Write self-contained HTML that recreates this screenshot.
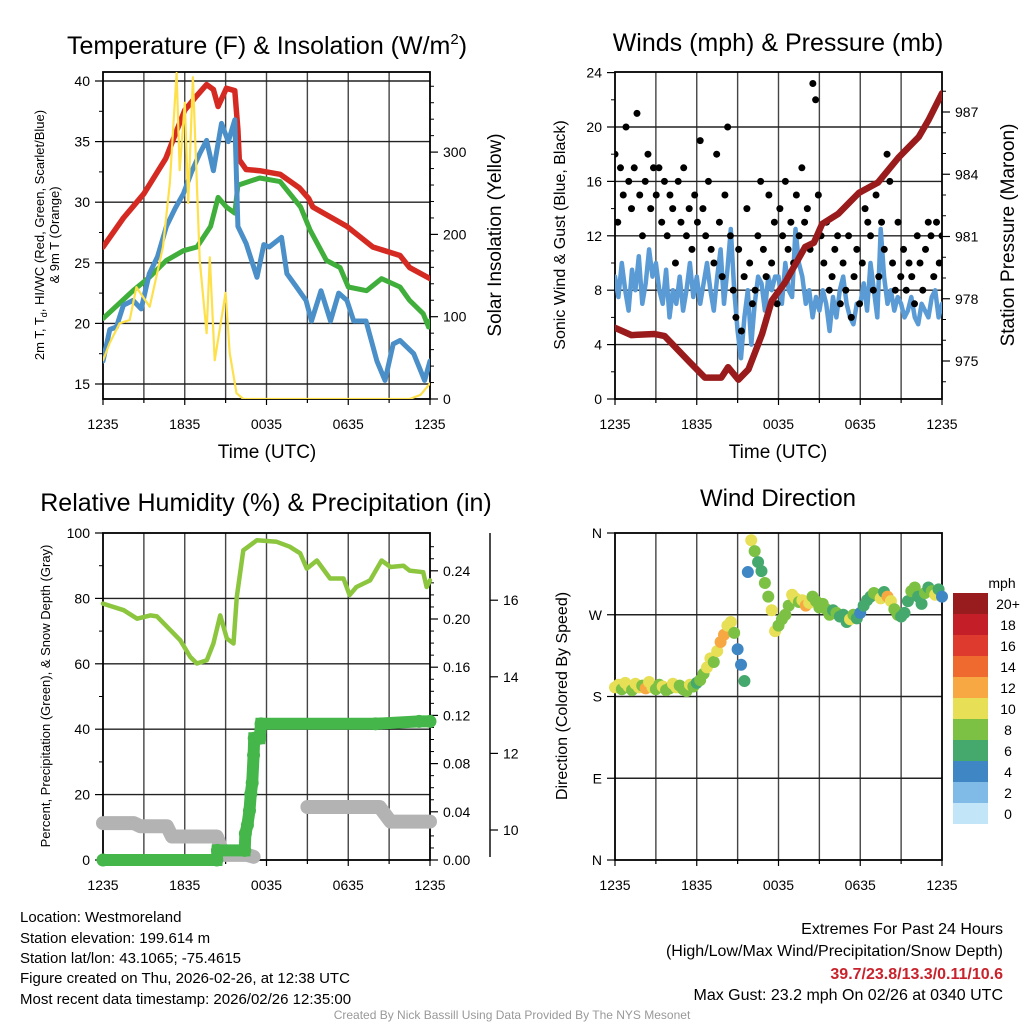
<!DOCTYPE html>
<html><head><meta charset="utf-8"><style>
html,body{margin:0;padding:0;background:#fff}
svg{display:block;font-family:"Liberation Sans",Arial,sans-serif}
</style></head><body>
<svg id="chart" width="1024" height="1024" viewBox="0 0 1024 1024" xmlns="http://www.w3.org/2000/svg">
<rect width="1024" height="1024" fill="#fff"/>
<g id="g1"></g>
<g id="g2"></g>
<g id="g3"></g>
<g id="g4"></g>
<text x="267" y="54" font-size="25" text-anchor="middle">Temperature (F) &amp; Insolation (W/m<tspan font-size="15" dy="-10">2</tspan><tspan dy="10">)</tspan></text>
<text x="778" y="51" font-size="25" text-anchor="middle">Winds (mph) &amp; Pressure (mb)</text>
<text x="266" y="511" font-size="25" text-anchor="middle">Relative Humidity (%) &amp; Precipitation (in)</text>
<text x="778" y="506" font-size="24" text-anchor="middle">Wind Direction</text>
<text x="267" y="458" font-size="19" text-anchor="middle">Time (UTC)</text>
<text x="778" y="458" font-size="19" text-anchor="middle">Time (UTC)</text>
<text transform="translate(44,235) rotate(-90)" font-size="13" text-anchor="middle">2m T, T<tspan font-size="9" dy="3">d</tspan><tspan dy="-3">, HI/WC (Red, Green, Scarlet/Blue)</tspan></text>
<text transform="translate(59,235) rotate(-90)" font-size="13" text-anchor="middle">&amp; 9m T (Orange)</text>
<text transform="translate(501,235) rotate(-90)" font-size="19" text-anchor="middle">Solar Insolation (Yellow)</text>
<text transform="translate(565,235) rotate(-90)" font-size="16" text-anchor="middle">Sonic Wind &amp; Gust (Blue, Black)</text>
<text transform="translate(1014,235) rotate(-90)" font-size="19" text-anchor="middle">Station Pressure (Maroon)</text>
<text transform="translate(50,696) rotate(-90)" font-size="13" text-anchor="middle">Percent, Precipitation (Green), &amp; Snow Depth (Gray)</text>
<text transform="translate(567,696) rotate(-90)" font-size="16" text-anchor="middle">Direction (Colored By Speed)</text>
<g font-size="15">
<text x="20" y="922">Location: Westmoreland</text>
<text x="20" y="943">Station elevation: 199.614 m</text>
<text x="20" y="963">Station lat/lon: 43.1065; -75.4615</text>
<text x="20" y="983">Figure created on Thu, 2026-02-26, at 12:38 UTC</text>
<text x="20" y="1004">Most recent data timestamp: 2026/02/26 12:35:00</text>
</g>
<g font-size="16" text-anchor="end">
<text x="1003" y="934">Extremes For Past 24 Hours</text>
<text x="1003" y="956">(High/Low/Max Wind/Precipitation/Snow Depth)</text>
<text x="1003" y="979" fill="#c8232c" font-weight="bold">39.7/23.8/13.3/0.11/10.6</text>
<text x="1003" y="1000">Max Gust: 23.2 mph On 02/26 at 0340 UTC</text>
</g>
<text x="512" y="1019" font-size="12" fill="#999" text-anchor="middle">Created By Nick Bassill Using Data Provided By The NYS Mesonet</text>
</svg>
<script>
// ---------- data ----------
const timeLabels = ["1235","1835","0035","0635","1235"];
const redHours = [0,1.5,3.0,4.6,6.0,6.9,7.6,8.1,8.45,9.06,9.67,9.9,10.0,10.5,11.5,13.0,14.4,15.1,15.4,17.9,19.8,21.8,22.5,24];
const redVals  = [26.3,28.7,30.7,33.6,37.6,38.8,39.7,39.3,37.9,39.4,39.2,36,33.5,32.7,32.6,32.3,31.2,30.3,29.6,28,26.3,25.6,24.6,23.7];
const greenHours = [0,2.2,3.4,4.65,5.9,6.9,7.9,8.45,9.06,9.67,9.9,11.5,13,14.5,15.2,16.4,17.4,18,19.35,20.45,21.8,22.5,23.5,23.9,24];
const greenVals  = [20.4,22.7,23.8,25.2,26,26.3,28,30.4,29.6,29.1,31.4,32,31.7,29.6,27.7,25.2,24.6,23,22.7,23.7,23,21.9,20.8,19.7,20.2];
const blueHours = [0,0.5,0.98,1.5,2.2,2.8,3.4,4.0,4.65,5.3,5.9,6.5,7.1,7.6,8.1,8.7,9.2,9.67,9.9,10.5,11.3,11.8,12.2,13.1,13.5,14.2,14.9,15.3,16.0,16.7,17.3,17.9,18.4,19.3,20.1,20.7,21.3,21.8,22.8,23.6,24];
const blueVals  = [16.9,19.5,19.7,21.5,21.9,21.2,24.1,25.5,28,29.5,30.7,32.5,34,35.1,32.6,36.5,35,36.8,28,26.6,23.8,26.5,26.3,27.1,24.1,23,21.9,20.2,22.7,20.2,22.5,21.9,20.2,20.2,16.9,15.3,18.3,18.6,17.5,15.3,16.9];
const solarHours = [0,0.49,1.22,1.96,2.45,3.43,4.4,4.9,5.4,5.63,6.0,6.25,6.6,7.1,7.6,7.84,8.2,8.6,9.0,9.3,9.8,10.3,22.5,23.3,24];
const solarVals  = [47,68,92,96,136,112,185,262,396,278,360,238,391,169,80,172,47,88,129,56,7,0,0,5,19];

const windVals = [9,7.5,10,8,6.5,9.5,8,10.5,7,8.5,11,9, 10,8,7,9.5,6,8,7,9,6.5,8,10,7.5, 9,7,8.5,10,8,6.5,9,11,7,9.5,12.5,8, 5,3,6,8,4,7,9,8.5,6.5,9,8,9, 9,7,10,8,7.5,12.5,10,9,7,8,6,7.5, 6.5,8,7,5,7.5,6,8,9,7,6,5.5,7, 7,8.5,6.5,10,8,6,12.5,9,7,8,6.5,7.5, 7,6,6.5,7.5,6,5.5,7,6.5,6,7.5,8,6,7];
const gustVals = [18,13,17,15,20,16,14,17,21,15,12,16,18,14,17, 15,17,13,16,12,15,14,10,16,13,17,12,14,11,15, 13,19,14,12,16,11,10,18,13,9,15,20,12,8,6, 11,5,9,14,10,7,8,12,16,11,9,15,10,13,7, 14,12,16,11,13,10,15,12,17,13,14,11,23.2,22,15, 12,10,13,8,9,11,12,7,10,8,12,6,9,11,7, 10,14,13,12,8,15,9,13,11,18,16,10,8,13,9, 11,8,10,9,7,12,10,8,11,13,12,9,13,10,12];
const presHours = [0,1.2,2.9,3.65,5.4,6.6,7.8,8.3,9.06,9.8,10.8,11.5,12.5,13.96,14.6,15.2,16.4,17.9,19.3,20.8,22.3,23.0,24];
const presVals  = [976.6,976.25,976.3,976.2,975,974.2,974.2,974.7,974.1,974.6,976.3,977.9,978.8,980.5,980.7,981.6,982.1,983.1,983.6,984.8,985.8,986.6,987.9];

const rhHours = [0,1.52,2.5,3.47,3.96,5.67,6.4,6.89,7.62,8.1,8.6,9.09,9.58,9.82,10.3,11.3,12.75,13.7,14.47,14.96,15.7,16.67,17.65,18.1,18.6,19.6,20.45,21.1,22.05,22.5,23.5,23.75,24];
const rhVals  = [78.4,76.4,73.8,74.8,74.5,67.2,62.1,60.1,61.1,66.2,74.8,67.7,66.2,80.5,94.7,97.8,97.3,95.8,93.8,89.1,91.6,86.1,86.1,81,83.5,85.5,91.6,89.6,90,88.5,88,83.5,85.5];
const precipHours = [0,8.35,8.4,10.4,10.45,10.6,10.75,10.85,10.95,11.05,11.1,11.5,11.6,20,23.2,24];
const precipVals  = [0,0,0.008,0.008,0.022,0.029,0.041,0.055,0.064,0.087,0.101,0.101,0.113,0.113,0.115,0.115];
const snowHoursA = [0,2.25,2.73,4.69,5.06,8.35,8.85,10.56,11.05];
const snowValsA  = [10.18,10.18,10.1,10.1,9.83,9.83,9.35,9.35,9.3];
const snowHoursB = [15.0,20.3,21.1,24];
const snowValsB  = [10.6,10.6,10.22,10.22];

const dirVals = [190,193,188,195,191,187,194,190,192,189,196,190,188,193,191,187,189,194,190,192,188,186,193,191,195,
 198,205,212,222,218,230,240,248,258,262,250, 232,215,197, 317,352, 340,328,318,305,290,275, 252,258,265,270,
 280,292,288,284,286,280,283,290,285,278, 282,276,270,275,272,268,270,262,265,270,266,272,
 280,286,290,294,292,288,295,290,285,276,270,268, 272,285,296,300,290,282,294,300,296,292,298,290];
const dirSpeeds = [9,10,8,9,10,7,9,10,8,11,9,10,8,7,9,8,7,10,9,8,7,8,9,7,6,
 8,7,9,10,8,10,11,12,10,9,7, 4,3,5, 4,10, 7,6,6,7,8,10, 10,8,7,8,
 8,10,9,7,10,12,9,7,8,8, 7,8,7,6,7,6,5,6,10,7,6,4,
 6,5,6,7,8,9,6,12,9,8,7,6, 6,6,7,8,6,6,7,6,8,9,6,4];
const speedColors = ["#c3e5f8","#7fbbe6","#3f86c4","#45a86c","#7cc143","#e7df55","#f7a843","#ef6a2e","#de3a2d","#c41f28","#981b1e"];
const speedLabels = ["0","2","4","6","8","10","12","14","16","18","20+"];

// ---------- helpers ----------
const NS="http://www.w3.org/2000/svg";
function E(tag,parent){const e=document.createElementNS(NS,tag);parent.appendChild(e);return e;}
function line(p,x1,y1,x2,y2,c,w){const l=E('line',p);l.setAttribute('x1',x1);l.setAttribute('y1',y1);l.setAttribute('x2',x2);l.setAttribute('y2',y2);l.setAttribute('stroke',c);l.setAttribute('stroke-width',w);return l;}
function txt(p,x,y,s,anchor,size){const t=E('text',p);t.setAttribute('x',x);t.setAttribute('y',y);t.setAttribute('text-anchor',anchor);t.setAttribute('font-size',size||14);t.textContent=s;return t;}
function poly(p,xs,ys,fx,fy,c,w){const pl=E('polyline',p);pl.setAttribute('points',xs.map((h,i)=>fx(h).toFixed(1)+','+fy(ys[i]).toFixed(1)).join(' '));pl.setAttribute('fill','none');pl.setAttribute('stroke',c);pl.setAttribute('stroke-width',w);pl.setAttribute('stroke-linejoin','round');pl.setAttribute('stroke-linecap','round');return pl;}
function clip(id,x,y,w,h){const d=E('clipPath',document.getElementById('chart'));d.setAttribute('id',id);const r=E('rect',d);r.setAttribute('x',x);r.setAttribute('y',y);r.setAttribute('width',w);r.setAttribute('height',h);}

function frame(g,L,T,R,B,hGrid){
  for(let k=1;k<8;k++){const x=L+k*(R-L)/8;const gl=line(g,x,T,x,B,'#444',1.4);
    }
  hGrid.forEach(y=>{const gl=line(g,L,y,R,y,'#222',1.4);
    });
  const r=E('rect',g);r.setAttribute('x',L);r.setAttribute('y',T);r.setAttribute('width',R-L);r.setAttribute('height',B-T);r.setAttribute('fill','none');r.setAttribute('stroke','#000');r.setAttribute('stroke-width',1.8);
  
  for(let k=0;k<=8;k++){const x=L+k*(R-L)/8;line(g,x,B,x,B+(k%2?4:6),'#000',1.2);}
  timeLabels.forEach((s,i)=>{const t=txt(g,L+i*(R-L)/4,B+30,s,'middle',14);
    });
}
function yTicks(g,x,vals,fy,labels,side,minor){
  const dir=side==='left'?-1:1;
  if(minor) minor.forEach(v=>line(g,x,fy(v),x+dir*4,fy(v),'#000',1));
  vals.forEach((v,i)=>{line(g,x,fy(v),x+dir*8,fy(v),'#000',1.2);
    const t=txt(g,x+dir*13,fy(v)+5,labels[i],side==='left'?'end':'start',14);
    });
}

// ---------- panel 1 ----------
(function(){
  const g=document.getElementById('g1');
  const L=103,T=72,R=430,B=399;
  const x=h=>L+h*(R-L)/24, y=v=>81+(40-v)*12.12, ys=w=>B-w*0.823;
  frame(g,L,T,R,B,[40,35,30,25,20,15].map(y));
  yTicks(g,L,[40,35,30,25,20,15],y,["40","35","30","25","20","15"],'left',[37.5,32.5,27.5,22.5,17.5]);
  yTicks(g,R,[0,100,200,300],ys,["0","100","200","300"],'right',[20,40,60,80,120,140,160,180,220,240,260,280,320,340,360,380]);
  clip('c1',L,T,R-L,B-T);
  const d=E('g',g);d.setAttribute('clip-path','url(#c1)');
  const a=poly(d,redHours,redVals,x,y,'#d52a22',5.5);
  
  const b=poly(d,greenHours,greenVals,x,y,'#3fae3a',5);
  
  const c=poly(d,blueHours,blueVals,x,y,'#4a8fc8',5);
  
  const s=poly(d,solarHours,solarVals,x,ys,'#fde04a',2.2);
  
})();

// ---------- panel 2 ----------
(function(){
  const g=document.getElementById('g2');
  const L=615,T=72,R=942,B=399;
  const x=h=>L+h*(R-L)/24, y=v=>B-v*13.6, yp=p=>361-(p-975)*20.75;
  frame(g,L,T,R,B,[4,8,12,16,20].map(y));
  yTicks(g,L,[0,4,8,12,16,20,24],y,["0","4","8","12","16","20","24"],'left',[2,6,10,14,18,22]);
  yTicks(g,R,[975,978,981,984,987],yp,["975","978","981","984","987"],'right',[974,976,977,979,980,982,983,985,986,988]);
  clip('c2',L,T,R-L,B-T);
  const d=E('g',g);d.setAttribute('clip-path','url(#c2)');
  const wh=windVals.map((v,i)=>i*24/(windVals.length-1));
  const w=poly(d,wh,windVals,x,y,'#5a9bd5',4.5);
  
  gustVals.forEach((v,i)=>{const c=E('circle',d);c.setAttribute('cx',x(i*24/(gustVals.length-1)));c.setAttribute('cy',y(v));c.setAttribute('r',3.5);c.setAttribute('fill','#000');
    });
  const p=poly(d,presHours,presVals,x,yp,'#9a1b1b',6.5);
  
})();

// ---------- panel 3 ----------
(function(){
  const g=document.getElementById('g3');
  const L=103,T=533,R=430,B=860;
  const x=h=>L+h*(R-L)/24, y=v=>B-v*3.27, yp=v=>B-v*1205, ysn=v=>830-(v-10)*38.3;
  frame(g,L,T,R,B,[80,60,40,20].map(y));
  yTicks(g,L,[0,20,40,60,80,100],y,["0","20","40","60","80","100"],'left',[10,30,50,70,90]);
  const pm=[];for(let k=1;k<27;k++){if(k%4)pm.push(k/100);}
  yTicks(g,R,[0,0.04,0.08,0.12,0.16,0.20,0.24],yp,["0.00","0.04","0.08","0.12","0.16","0.20","0.24"],'right',pm);
  const ax=line(g,490,T,490,B-3,'#000',1.4);
  
  yTicks(g,490,[10,12,14,16],ysn,["10","12","14","16"],'right',[]);
  const d=E('g',g);
  const rh=poly(d,rhHours,rhVals,x,y,'#8cc63f',4.5);
  
  const sa=poly(d,snowHoursA,snowValsA,x,ysn,'#b3b3b3',14);
  
  const sb=poly(d,snowHoursB,snowValsB,x,ysn,'#b3b3b3',14);
  
  const pr=poly(d,precipHours,precipVals,x,yp,'#45b649',12);
  pr.setAttribute('stroke-linejoin','miter');
  
  precipHours.forEach((h,i)=>{const c=E('circle',d);c.setAttribute('cx',x(h));c.setAttribute('cy',yp(precipVals[i]));c.setAttribute('r',6.5);c.setAttribute('fill','#45b649');
    });
})();

// ---------- panel 4 ----------
(function(){
  const g=document.getElementById('g4');
  const L=615,T=533,R=942,B=860;
  const x=h=>L+h*(R-L)/24, y=dg=>B-dg*(B-T)/360;
  frame(g,L,T,R,B,[90,180,270].map(y));
  yTicks(g,L,[0,90,180,270,360],y,["N","E","S","W","N"],'left',[]);
  dirVals.forEach((v,i)=>{const c=E('circle',g);
    const idx=Math.min(10,Math.max(0,Math.floor((dirSpeeds[i]+1)/2)));
    c.setAttribute('cx',x(i*24/(dirVals.length-1)));c.setAttribute('cy',y(v));c.setAttribute('r',6);c.setAttribute('fill',speedColors[idx]);
    });
  const lg=E('g',g);
  
  
  const mt=txt(lg,1002,588,'mph','middle',14);
  
  for(let k=0;k<11;k++){const yy=593+(10-k)*21;
    const r=E('rect',lg);r.setAttribute('x',953);r.setAttribute('y',yy);r.setAttribute('width',35);r.setAttribute('height',21);r.setAttribute('fill',speedColors[k]);
    
    const t=txt(lg,1008,yy+16,speedLabels[k],'middle',14);
    }
})();
</script>
</body></html>
